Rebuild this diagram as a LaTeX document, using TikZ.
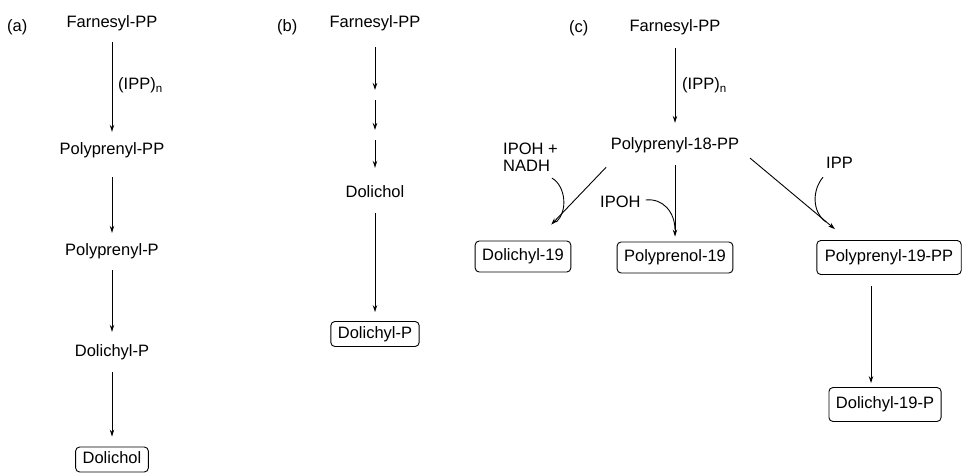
\documentclass[tikz,border=0pt]{standalone}
\usepackage{fontspec}
\setmainfont{Liberation Sans}
\usetikzlibrary{arrows.meta}
\begin{document}
\begin{tikzpicture}[x=1pt,y=-1pt,
  every node/.style={font=\fontsize{16.5}{18}\selectfont},
  txt/.style={inner sep=0pt, text height=12pt, text depth=4pt, anchor=base},
  box/.style={draw, rounded corners=4pt, line width=0.9pt, inner xsep=7pt, inner ysep=0pt, text height=12pt, text depth=3.5pt},
  arr/.style={line width=0.9pt, -{Stealth[length=7pt,width=4.5pt]}},
  feed/.style={line width=0.9pt},
]
\useasboundingbox (0,0) rectangle (964,473);

% ---------- (a)
\node[txt, anchor=base west] (la) at (7,32) {(a)};
\node[txt] (fa) at (112,28) {Farnesyl-PP};
\node[txt, anchor=base west] (ipa) at (118,90) {(IPP)\textsubscript{n}};
\node[txt] (ppa) at (112,155) {Polyprenyl-PP};
\node[txt] (pma) at (112,255) {Polyprenyl-P};
\node[txt] (dpa) at (112,356) {Dolichyl-P};
\node[box, minimum height=25pt] (dola) at (112,459.5) {Dolichol};
\draw[arr, shorten <=10pt, shorten >=11pt] (fa) -- (ppa);
\draw[arr, shorten <=18pt, shorten >=10pt] (ppa) -- (pma);
\draw[arr, shorten <=11pt, shorten >=12pt] (pma) -- (dpa);
\draw[arr, shorten <=12pt, shorten >=10pt] (dpa) -- (dola);

% ---------- (b)
\node[txt, anchor=base west] (lb) at (277,32) {(b)};
\node[txt] (fb) at (375,28) {Farnesyl-PP};
\coordinate (b1) at (375,95);
\coordinate (b2) at (375,135);
\node[txt] (dolb) at (375,198) {Dolichol};
\node[box, minimum height=25pt] (dpb) at (375,334) {Dolichyl-P};
\draw[arr, shorten <=15pt, shorten >=5pt] (fb) -- (b1);
\draw[arr, shorten <=5pt, shorten >=5pt] (b1) -- (b2);
\draw[arr, shorten <=5pt, shorten >=18pt] (b2) -- (dolb);
\draw[arr, shorten <=11pt, shorten >=9pt] (dolb) -- (dpb);

% ---------- (c)
\node[txt, anchor=base west] (lc) at (569,33) {(c)};
\node[txt] (fc) at (675,32) {Farnesyl-PP};
\node[txt, anchor=base west] (ipc) at (682,90) {(IPP)\textsubscript{n}};
\node[txt] (pc) at (675,150) {Polyprenyl-18-PP};
\draw[arr, shorten <=12pt, shorten >=15pt] (fc) -- (pc);

\node[box, minimum height=31pt] (d19) at (523,256.5) {Dolichyl-19};
\node[box, minimum height=31pt] (pn19) at (675,257.5) {Polyprenol-19};
\node[box, minimum height=34pt, inner xsep=8pt] (pp19) at (889,257.5) {Polyprenyl-19-PP};
\node[box, minimum height=34pt] (d19p) at (885,404.5) {Dolichyl-19-P};

\draw[arr, shorten <=18pt, shorten >=22pt] ([xshift=8pt]pc.south west) -- ([xshift=13pt]d19.north);
\draw[arr, shorten <=11pt, shorten >=5pt] (pc.south) -- (pn19.north);
\draw[arr, shorten <=6pt, shorten >=17pt] ([xshift=6pt]pc.south east) -- ([xshift=-41pt]pp19.north);
\draw[arr, shorten <=11pt, shorten >=4pt] ([xshift=-18pt]pp19.south) -- ([xshift=-14pt]d19p.north);

% side reactants
\node[inner sep=0pt, anchor=north west, align=left, font=\fontsize{16.5}{17}\selectfont] (cof1) at (503,143.2) {IPOH +\\NADH};
\node[txt, anchor=base west] (ipoh) at (600,208) {IPOH};
\node[txt, anchor=base west] (ipp) at (826,169) {IPP};
\coordinate (tL) at (556,222);
\coordinate (tM) at (675,230);
\coordinate (tR) at (826,222);
\draw[feed] ([shift={(-6,6)}]cof1.south east) .. controls +(14,8) and +(12,-10) .. (tL);
\draw[feed] ([shift={(5,-4)}]ipoh.east) .. controls +(17,-2) and +(0,-18) .. (tM);
\draw[feed] ([shift={(-3,4)}]ipp.south west) .. controls +(-11,13) and +(-14,-10) .. (tR);
\end{tikzpicture}
\end{document}
